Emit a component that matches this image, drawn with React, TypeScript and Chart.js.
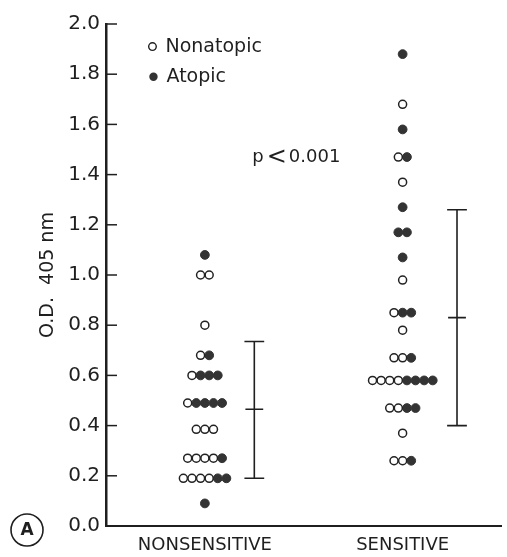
import React, { useEffect, useRef } from "react";
import { Chart, registerables } from "chart.js";

Chart.register(...registerables);

// ---- data ----
const groupLabels = ["NONSENSITIVE", "SENSITIVE"];
const groupPositions = [1, 3];
const seriesLabels = ["Nonatopic", "Atopic"];

// Nonsensitive rows (value, count of nonatopic (open), count of atopic (filled))
const nsRowValues = [1.08, 1.0, 0.8, 0.68, 0.6, 0.49, 0.385, 0.27, 0.19, 0.09];
const nsRowNonatopic = [0, 2, 1, 1, 1, 1, 3, 4, 4, 0];
const nsRowAtopic = [1, 0, 0, 1, 3, 4, 0, 1, 2, 1];

// Sensitive rows
const sRowValues = [1.88, 1.68, 1.58, 1.47, 1.37, 1.27, 1.17, 1.07, 0.98, 0.85, 0.78, 0.67, 0.58, 0.47, 0.37, 0.26];
const sRowNonatopic = [0, 1, 0, 1, 1, 0, 0, 0, 1, 1, 1, 2, 4, 2, 1, 2];
const sRowAtopic = [1, 0, 1, 1, 0, 1, 2, 1, 0, 2, 0, 1, 4, 2, 0, 1];

// mean ± SD bars
const barPositions = [1.5, 3.55];
const barMeans = [0.465, 0.83];
const barLows = [0.19, 0.4];
const barHighs = [0.735, 1.26];

const yTickValues = [0, 0.2, 0.4, 0.6, 0.8, 1.0, 1.2, 1.4, 1.6, 1.8, 2.0];
const yTitle = "O.D.  405 nm";
const pValueText = ["p", "<", "0.001"];
const panelLetter = "A";

// ---- layout constants ----
const DOT_STEP = 0.087;
const CAP_HALF = 0.1;
const MEAN_HALF = 0.09;
const FONT = "'DejaVu Sans', sans-serif";
const INK = "#1f1f1f";

type Pt = { x: number; y: number };

function buildPoints(center: number, values: number[], openCounts: number[], filledCounts: number[]) {
  const open: Pt[] = [];
  const filled: Pt[] = [];
  values.forEach((v, r) => {
    const n = openCounts[r] + filledCounts[r];
    for (let i = 0; i < n; i++) {
      const x = center + (i - (n - 1) / 2) * DOT_STEP;
      (i < openCounts[r] ? open : filled).push({ x, y: v });
    }
  });
  return { open, filled };
}

const decorPlugin = {
  id: "decor",
  afterDraw(chart: any) {
    const { ctx, chartArea } = chart;
    const ys = chart.scales.y;
    const xs = chart.scales.x;
    ctx.save();
    // inner tick marks on y axis
    ctx.strokeStyle = INK;
    ctx.lineWidth = 1.5;
    yTickValues.forEach((v) => {
      const py = ys.getPixelForValue(v);
      ctx.beginPath();
      ctx.moveTo(chartArea.left, py);
      ctx.lineTo(chartArea.left + 11, py);
      ctx.stroke();
    });
    // legend
    const lx = xs.getPixelForValue(0.47);
    const ly1 = ys.getPixelForValue(1.91);
    const ly2 = ys.getPixelForValue(1.79);
    ctx.fillStyle = INK;
    ctx.font = `19px ${FONT}`;
    ctx.textBaseline = "middle";
    ctx.textAlign = "left";
    ctx.beginPath();
    ctx.arc(lx, ly1, 3.8, 0, Math.PI * 2);
    ctx.fillStyle = "#fff";
    ctx.fill();
    ctx.lineWidth = 1.4;
    ctx.stroke();
    ctx.fillStyle = INK;
    ctx.fillText(chart.data.datasets[0].label, lx + 13, ly1);
    ctx.beginPath();
    ctx.arc(lx + 1, ly2, 4.2, 0, Math.PI * 2);
    ctx.fillStyle = "#333";
    ctx.fill();
    ctx.fillStyle = INK;
    ctx.fillText(chart.data.datasets[1].label, lx + 14, ly2);
    // p value
    const px = xs.getPixelForValue(1.48);
    const py = ys.getPixelForValue(1.47);
    ctx.font = `18px ${FONT}`;
    ctx.fillText(pValueText[0], px, py);
    let cx = px + ctx.measureText(pValueText[0]).width + 3;
    ctx.font = `24px ${FONT}`;
    ctx.fillText(pValueText[1], cx, py + 1);
    cx += ctx.measureText(pValueText[1]).width + 2;
    ctx.font = `18px ${FONT}`;
    ctx.fillText(pValueText[2], cx, py);
    // panel letter
    ctx.beginPath();
    ctx.arc(27, 530, 16, 0, Math.PI * 2);
    ctx.lineWidth = 1.6;
    ctx.strokeStyle = INK;
    ctx.stroke();
    ctx.font = `bold 17px ${FONT}`;
    ctx.textAlign = "center";
    ctx.fillText(panelLetter, 27, 531);
    ctx.restore();
  },
};

export default function App() {
  const ref = useRef<HTMLCanvasElement | null>(null);
  useEffect(() => {
    if (!ref.current) return;
    const ns = buildPoints(groupPositions[0], nsRowValues, nsRowNonatopic, nsRowAtopic);
    const s = buildPoints(groupPositions[1], sRowValues, sRowNonatopic, sRowAtopic);

    const barSets: any[] = [];
    barPositions.forEach((p, i) => {
      const segs: Pt[][] = [
        [{ x: p, y: barLows[i] }, { x: p, y: barHighs[i] }],
        [{ x: p - CAP_HALF, y: barHighs[i] }, { x: p + CAP_HALF, y: barHighs[i] }],
        [{ x: p - CAP_HALF, y: barLows[i] }, { x: p + CAP_HALF, y: barLows[i] }],
        [{ x: p - MEAN_HALF, y: barMeans[i] }, { x: p + MEAN_HALF, y: barMeans[i] }],
      ];
      segs.forEach((seg) =>
        barSets.push({
          type: "scatter",
          label: "bar",
          data: seg,
          showLine: true,
          borderColor: INK,
          borderWidth: 1.6,
          pointRadius: 0,
          fill: false,
        })
      );
    });

    const chart = new Chart(ref.current, {
      type: "scatter",
      data: {
        datasets: [
          {
            label: seriesLabels[0],
            data: [...ns.open, ...s.open],
            pointRadius: 4,
            pointBackgroundColor: "#fff",
            pointBorderColor: "#222",
            pointBorderWidth: 1.5,
          },
          {
            label: seriesLabels[1],
            data: [...ns.filled, ...s.filled],
            pointRadius: 4.4,
            pointBackgroundColor: "#333",
            pointBorderColor: "#333",
            pointBorderWidth: 1,
          },
          ...barSets,
        ],
      },
      options: {
        animation: false,
        responsive: false,
        maintainAspectRatio: false,
        layout: { padding: { top: 24, right: 2, bottom: 0, left: 0 } },
        plugins: { legend: { display: false }, tooltip: { enabled: false } },
        scales: {
          x: {
            type: "linear",
            min: 0,
            max: 4,
            grid: { display: false, drawTicks: false },
            border: { display: true, color: INK, width: 2 },
            afterBuildTicks: (axis: any) => {
              axis.ticks = groupPositions.map((v) => ({ value: v }));
            },
            afterFit: (axis: any) => {
              axis.height = 31;
            },
            ticks: {
              padding: 9,
              color: INK,
              font: { family: FONT, size: 18 },
              autoSkip: false,
              maxRotation: 0,
              callback: (v: any) => {
                const idx = groupPositions.indexOf(Number(v));
                return idx >= 0 ? groupLabels[idx] : "";
              },
            },
          },
          y: {
            type: "linear",
            min: 0,
            max: 2,
            grid: { display: false, drawTicks: false },
            border: { display: true, color: INK, width: 2.5 },
            afterBuildTicks: (axis: any) => {
              axis.ticks = yTickValues.map((v) => ({ value: v }));
            },
            afterFit: (axis: any) => {
              axis.width = 106;
            },
            title: {
              display: true,
              text: yTitle,
              color: INK,
              font: { family: FONT, size: 19 },
              padding: { top: 37, bottom: 0 },
            },
            ticks: {
              padding: 6,
              color: INK,
              font: { family: FONT, size: 20 },
              callback: (v: any) => Number(v).toFixed(1),
            },
          },
        },
      },
      plugins: [decorPlugin],
    });
    return () => chart.destroy();
  }, []);

  return (
    <div style={{ position: "absolute", left: 0, top: 0, width: 507, height: 557, background: "#fff" }}>
      <canvas ref={ref} width={507} height={557} style={{ display: "block", width: 507, height: 557 }} />
    </div>
  );
}
